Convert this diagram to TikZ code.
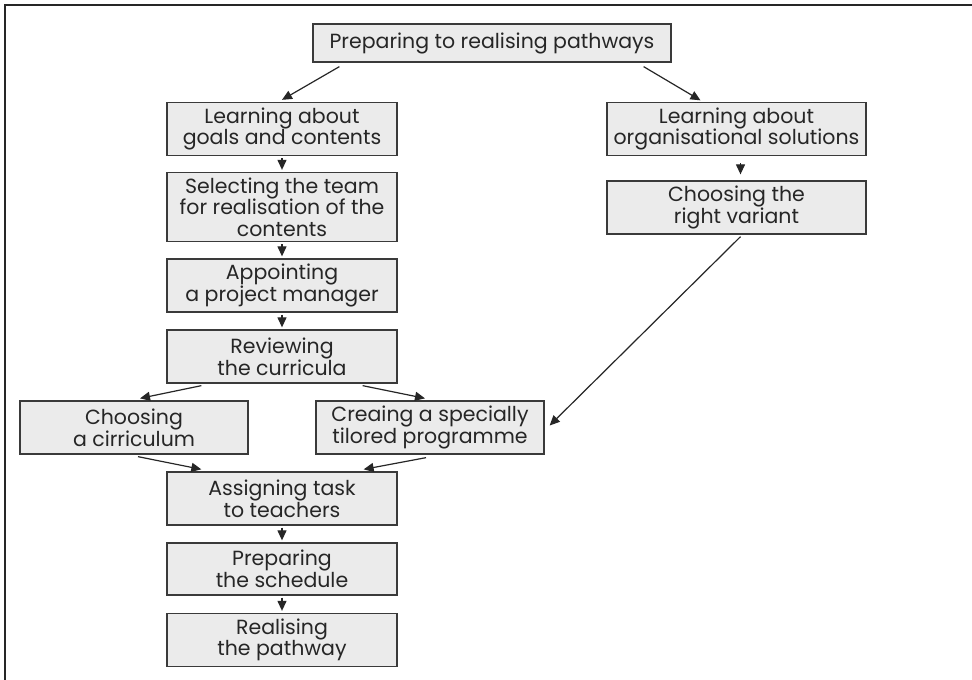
\documentclass[tikz,border=0pt]{standalone}
\usepackage{fontspec}
\setmainfont{Poppins}
\usetikzlibrary{arrows.meta}
\definecolor{boxfill}{HTML}{EBEBEB}
\definecolor{boxline}{HTML}{3A3A3A}
\tikzset{
  stepbox/.style={draw=boxline, line width=1.3pt, fill=boxfill, rectangle, align=center,
    inner sep=0pt, font=\fontsize{20.5}{21.7}\selectfont, text=black!85},
  arr/.style={line width=1.2pt, draw=black!85, -{Triangle[length=10pt,width=9pt]}}
}
\begin{document}
\begin{tikzpicture}[x=1pt,y=-1pt]
\useasboundingbox (0,0) rectangle (972,680);
\fill[white] (0,0) rectangle (972,680);
\draw[line width=2.8pt, black!85] (5,680) -- (5,5) -- (972,5);

\node[stepbox, minimum width=358pt, minimum height=38pt] (top) at (492,43) {Preparing to realising pathways};
\node[stepbox, minimum width=230pt, minimum height=53pt] (L1) at (282,129) {Learning about\\goals and contents};
\node[stepbox, minimum width=230pt, minimum height=69pt] (L2) at (282,207) {Selecting the team\\for realisation of the\\contents};
\node[stepbox, minimum width=230pt, minimum height=53pt] (L3) at (282,285.5) {Appointing\\a project manager};
\node[stepbox, minimum width=230pt, minimum height=53pt] (L4) at (282,356.5) {Reviewing\\the curricula};
\node[stepbox, minimum width=259pt, minimum height=53pt] (R1) at (736.5,129) {Learning about\\organisational solutions};
\node[stepbox, minimum width=259pt, minimum height=53pt] (R2) at (736.5,207.5) {Choosing the\\right variant};
\node[stepbox, minimum width=228pt, minimum height=53pt] (Ch) at (134,427.5) {Choosing\\a cirriculum};
\node[stepbox, minimum width=228pt, minimum height=53pt] (Cr) at (430,427.5) {Creaing a specially\\tilored programme};
\node[stepbox, minimum width=230pt, minimum height=53pt] (As) at (282,498.5) {Assigning task\\to teachers};
\node[stepbox, minimum width=230pt, minimum height=52pt] (Pr) at (282,569) {Preparing\\the schedule};
\node[stepbox, minimum width=230pt, minimum height=53pt] (Re) at (282,640) {Realising\\the pathway};

\draw[arr] ([xshift=27pt,yshift=-4pt]top.south west) -- ([yshift=2pt]L1.north);
\draw[arr] ([xshift=-28pt,yshift=-4pt]top.south east) -- ([xshift=-36pt,yshift=1.5pt]R1.north);
\draw[arr] ([yshift=-2pt]L1.south) -- ([yshift=2pt]L2.north);
\draw[arr] ([yshift=-2pt]L2.south) -- ([yshift=2pt]L3.north);
\draw[arr] ([yshift=-2pt]L3.south) -- ([yshift=2pt]L4.north);
\draw[arr] ([xshift=4pt,yshift=-7pt]R1.south) -- ([xshift=4pt,yshift=6pt]R2.north);
\draw[arr] ([xshift=4pt,yshift=-2pt]R2.south) -- ([xshift=5pt,yshift=2pt]Cr.east);
\draw[arr] ([xshift=35pt,yshift=-2pt]L4.south west) -- ([xshift=6pt,yshift=2pt]Ch.north);
\draw[arr] ([xshift=-35pt,yshift=-2pt]L4.south east) -- ([xshift=-5pt,yshift=2pt]Cr.north);
\draw[arr] ([xshift=4pt,yshift=-2pt]Ch.south) -- ([xshift=35pt,yshift=2pt]As.north west);
\draw[arr] ([xshift=-4pt,yshift=-3pt]Cr.south) -- ([xshift=-34pt,yshift=2pt]As.north east);
\draw[arr] ([yshift=-2pt]As.south) -- ([yshift=2pt]Pr.north);
\draw[arr] ([yshift=-2pt]Pr.south) -- ([yshift=2pt]Re.north);
\end{tikzpicture}
\end{document}
